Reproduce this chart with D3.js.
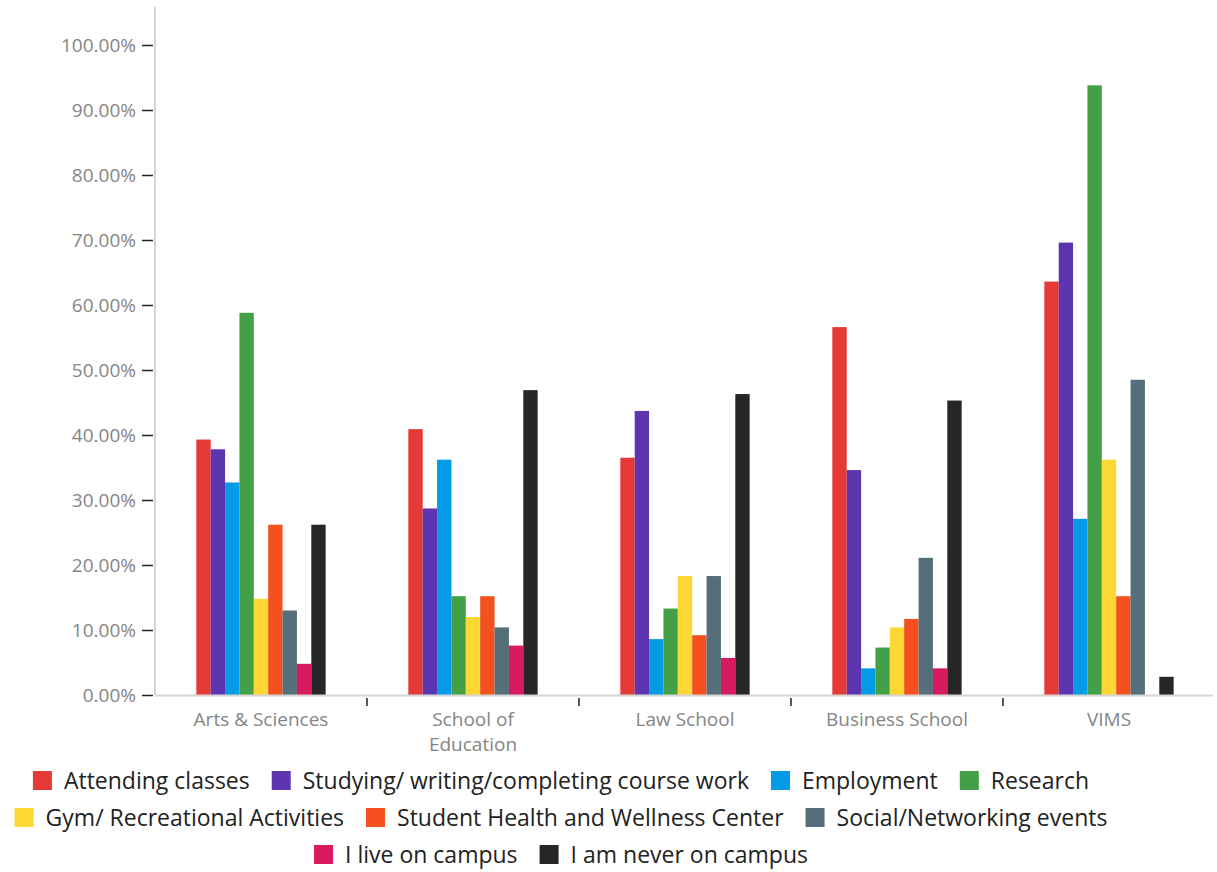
<!DOCTYPE html>
<html>
<head>
<meta charset="utf-8">
<script src="https://cdn.jsdelivr.net/npm/d3@7"></script>
<style>
  html, body { margin: 0; padding: 0; background: #fff; }
  svg { display: block; }
</style>
</head>
<body>
<svg id="chart" width="1217" height="872"></svg>
<script>
// Schools along the x axis
const schools = ["Arts & Sciences", "School of\nEducation", "Law School", "Business School", "VIMS"];

// Reasons for being on campus (one bar per reason within each school)
const reasons = [
  "Attending classes",
  "Studying/ writing/completing course work",
  "Employment",
  "Research",
  "Gym/ Recreational Activities",
  "Student Health and Wellness Center",
  "Social/Networking events",
  "I live on campus",
  "I am never on campus"
];

const reasonColors = ["#e53935", "#5e35b1", "#039be5", "#43a047", "#fdd835", "#f4511e", "#546e7a", "#d81b60", "#262626"];

// Percent of respondents, per reason, per school (same order as schools)
const attendingClasses = [39.3, 40.9, 36.5, 56.6, 63.6];
const studying         = [37.8, 28.7, 43.7, 34.6, 69.6];
const employment       = [32.7, 36.2,  8.6,  4.1, 27.1];
const research         = [58.8, 15.2, 13.3,  7.3, 93.8];
const gym              = [14.8, 12.0, 18.3, 10.4, 36.2];
const healthCenter     = [26.2, 15.2,  9.2, 11.7, 15.2];
const socialEvents     = [13.0, 10.4, 18.3, 21.1, 48.5];
const liveOnCampus     = [ 4.8,  7.6,  5.7,  4.1,  0.0];
const neverOnCampus    = [26.2, 46.9, 46.3, 45.3,  2.8];

const seriesValues = [attendingClasses, studying, employment, research, gym,
                      healthCenter, socialEvents, liveOnCampus, neverOnCampus];

const yTicks = [0, 10, 20, 30, 40, 50, 60, 70, 80, 90, 100];

const svg = d3.select("#chart");
const plot = { left: 155, right: 1215, top: 7, bottom: 695 };
const font = "'Open Sans', 'Noto Sans', sans-serif";

const y = d3.scaleLinear().domain([0, 100]).range([plot.bottom, 45]);

const x0 = d3.scaleBand()
  .domain(schools)
  .range([plot.left, plot.right])
  .paddingInner(0.39)
  .paddingOuter(0.195);

const x1 = d3.scaleBand()
  .domain(reasons)
  .range([0, x0.bandwidth()]);

// Y axis
const yAxis = svg.append("g")
  .attr("transform", `translate(${plot.left - 2},0)`)
  .call(d3.axisLeft(y).tickValues(yTicks).tickSize(11).tickPadding(6)
    .tickFormat(d => d.toFixed(2) + "%"));
yAxis.select(".domain").remove();
yAxis.selectAll(".tick line").attr("stroke", "#222").attr("stroke-width", 1.5);
yAxis.selectAll(".tick text")
  .attr("fill", "#858585")
  .style("font-family", font)
  .style("font-size", "19px");

svg.append("line")
  .attr("x1", plot.left).attr("x2", plot.left)
  .attr("y1", plot.top).attr("y2", plot.bottom)
  .attr("stroke", "#d6d6d6").attr("stroke-width", 2);

// Bars
const groups = svg.append("g").selectAll("g")
  .data(schools)
  .join("g")
  .attr("transform", d => `translate(${x0(d)},0)`);

groups.selectAll("rect")
  .data((school, i) => reasons.map((r, k) => ({ reason: r, value: seriesValues[k][i], color: reasonColors[k] })))
  .join("rect")
  .attr("x", d => x1(d.reason))
  .attr("width", x1.bandwidth())
  .attr("y", d => y(d.value))
  .attr("height", d => y(0) - y(d.value))
  .attr("fill", d => d.color);

// X baseline
svg.append("line")
  .attr("x1", plot.left).attr("x2", 1213)
  .attr("y1", plot.bottom + 0.5).attr("y2", plot.bottom + 0.5)
  .attr("stroke", "#d6d6d6").attr("stroke-width", 2);

// Separators between schools
const step = x0.step();
const separators = schools.slice(1).map(s => x0(s) - (step - x0.bandwidth()) / 2);
svg.append("g").selectAll("line")
  .data(separators)
  .join("line")
  .attr("x1", d => d).attr("x2", d => d)
  .attr("y1", plot.bottom + 3).attr("y2", plot.bottom + 11)
  .attr("stroke", "#222").attr("stroke-width", 1.5);

// School labels
const labels = svg.append("g").selectAll("text")
  .data(schools)
  .join("text")
  .attr("x", d => x0(d) + x0.bandwidth() / 2)
  .attr("y", 726)
  .attr("text-anchor", "middle")
  .attr("fill", "#858585")
  .style("font-family", font)
  .style("font-size", "19px");
labels.each(function(d) {
  const t = d3.select(this);
  d.split("\n").forEach((line, i) => {
    t.append("tspan").attr("x", x0(d) + x0.bandwidth() / 2).attr("dy", i === 0 ? 0 : 25).text(line);
  });
});

// Legend, wrapped into centered rows
const legend = svg.append("g");
const sq = 19, gapText = 12, gapItem = 22, maxRow = 1110, centerX = 561;
const items = reasons.map((r, k) => {
  const g = legend.append("g");
  g.append("rect").attr("width", sq).attr("height", sq).attr("y", -18).attr("fill", reasonColors[k]);
  const t = g.append("text")
    .attr("x", sq + gapText)
    .attr("fill", "#222")
    .style("font-family", font)
    .style("font-size", "23px")
    .text(r);
  const w = sq + gapText + t.node().getComputedTextLength();
  return { g, w };
});
const rows = [];
let cur = [], curW = 0;
items.forEach(it => {
  const add = cur.length ? gapItem + it.w : it.w;
  if (cur.length && curW + add > maxRow) { rows.push({ items: cur, w: curW }); cur = [it]; curW = it.w; }
  else { cur.push(it); curW += add; }
});
rows.push({ items: cur, w: curW });
rows.forEach((row, ri) => {
  let xPos = centerX - row.w / 2;
  row.items.forEach(it => {
    it.g.attr("transform", `translate(${xPos},${789 + ri * 37})`);
    xPos += it.w + gapItem;
  });
});
</script>
</body>
</html>
